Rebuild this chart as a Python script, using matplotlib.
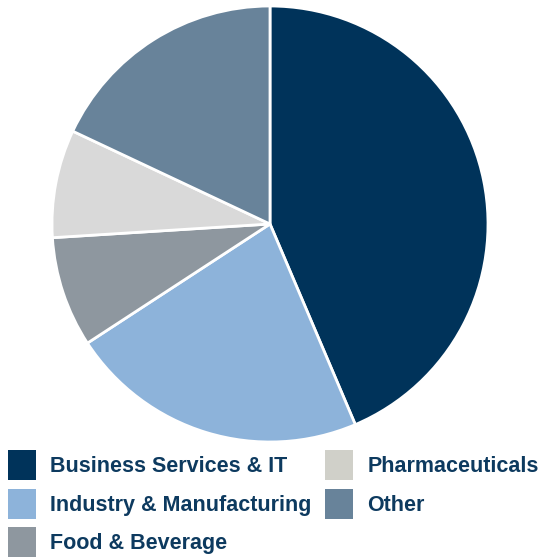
import matplotlib.pyplot as plt

# sector split of the portfolio, percent
sectors = ["Business Services & IT", "Industry & Manufacturing", "Food & Beverage",
           "Pharmaceuticals", "Other"]
shares = [43.6, 22.2, 8.2, 8.0, 18.0]
colors = ["#00335A", "#8DB3DA", "#8E979F", "#D9D9D9", "#68839A"]
legend_colors = ["#00335A", "#8DB3DA", "#8E979F", "#D0D0C9", "#68839A"]
text_color = "#0D3A5F"

plt.rcParams['font.family'] = ['Liberation Sans', 'DejaVu Sans']

fig = plt.figure(figsize=(5.49, 5.59), dpi=100)
ax = fig.add_axes([52/549, 1 - 442/559, 436/549, 436/559])

wedges, _ = ax.pie(shares, colors=colors, startangle=90, counterclock=False,
                   wedgeprops=dict(edgecolor="white", linewidth=2))
ax.set_xlim(-1, 1)
ax.set_ylim(-1, 1)
ax.set_aspect("equal")

leg = fig.legend(wedges, sectors, loc="upper left", bbox_to_anchor=(8/549, 1 - 450/559),
                 ncol=2, frameon=False, borderpad=0, borderaxespad=0,
                 handlelength=1.3, handleheight=1.77, handletextpad=0.65,
                 columnspacing=0.65, labelspacing=0.4,
                 prop=dict(size=15.5, weight="bold"))
for t in leg.get_texts():
    t.set_color(text_color)
for h, c in zip(leg.legend_handles, legend_colors):
    h.set_facecolor(c)
    h.set_edgecolor("none")

fig.savefig("out.png", dpi=100)
